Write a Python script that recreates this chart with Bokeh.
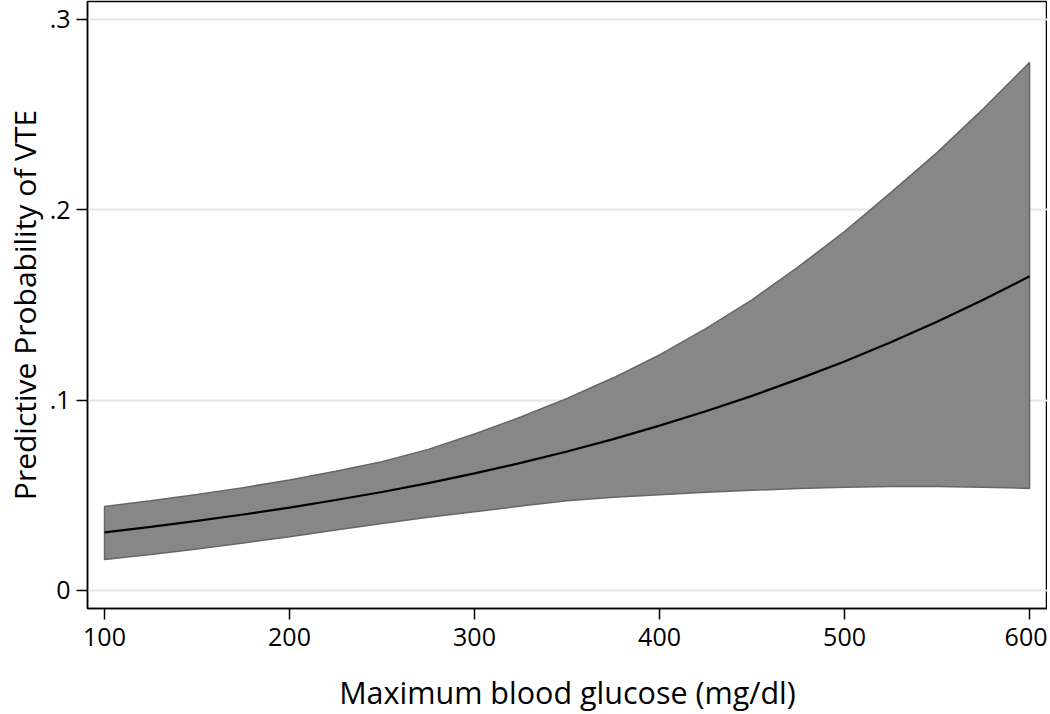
from bokeh.plotting import figure
from bokeh.models import Range1d, FixedTicker, Title
from bokeh.embed import file_html
from bokeh.resources import INLINE

# Data
glucose = [100, 125, 150, 175, 200, 225, 250, 275, 300, 325, 350,
           375, 400, 425, 450, 475, 500, 525, 550, 575, 600]
prob = [0.0305, 0.0334, 0.0365, 0.0399, 0.0435, 0.0475, 0.0517, 0.0564,
        0.0615, 0.0670, 0.0730, 0.0795, 0.0866, 0.0941, 0.1022, 0.1110,
        0.1203, 0.1304, 0.1412, 0.1527, 0.1650]
upper = [0.0441, 0.0471, 0.0504, 0.0540, 0.0580, 0.0626, 0.0676, 0.0741,
         0.0822, 0.0911, 0.1008, 0.1117, 0.1237, 0.1375, 0.1527, 0.1700,
         0.1885, 0.2090, 0.2300, 0.2530, 0.2774]
lower = [0.0163, 0.0189, 0.0217, 0.0249, 0.0282, 0.0317, 0.0352, 0.0384,
         0.0413, 0.0443, 0.0471, 0.0489, 0.0503, 0.0516, 0.0526, 0.0535,
         0.0542, 0.0546, 0.0546, 0.0542, 0.0536]

x_ticks = [100, 200, 300, 400, 500, 600]
y_ticks = [0, 0.1, 0.2, 0.3]
y_tick_labels = ["0", ".1", ".2", ".3"]

x_title = "Maximum blood glucose (mg/dl)"
y_title = "Predictive Probability of VTE"

FONT = "Open Sans"

p = figure(
    frame_width=960, frame_height=607,
    min_border_left=82, min_border_right=0, min_border_top=1, min_border_bottom=104,
    x_range=Range1d(90.8, 609.7), y_range=Range1d(-0.0095, 0.3094),
    output_backend="svg", toolbar_location=None,
)

# confidence band
band_x = glucose + glucose[::-1]
band_y = upper + lower[::-1]
p.patch(band_x, band_y, fill_color="#878787", fill_alpha=1.0,
        line_color="#666666", line_width=1.5)

# predicted probability
p.line(glucose, prob, line_color="black", line_width=2.2)

# styling
p.background_fill_color = "white"
p.border_fill_color = "white"
p.outline_line_color = "black"
p.outline_line_width = 1.5
p.outline_line_alpha = 1.0

p.xgrid.grid_line_color = None
p.ygrid.grid_line_color = "#e6e6e6"
p.ygrid.grid_line_width = 2
p.ygrid.ticker = FixedTicker(ticks=y_ticks)

p.xaxis.ticker = FixedTicker(ticks=x_ticks)
p.yaxis.ticker = FixedTicker(ticks=y_ticks)
p.yaxis.major_label_overrides = {t: l for t, l in zip(y_ticks, y_tick_labels)}

for ax in (p.xaxis[0], p.yaxis[0]):
    ax.axis_line_color = "black"
    ax.axis_line_width = 1.5
    ax.major_tick_line_color = "black"
    ax.major_tick_line_width = 1.5
    ax.major_tick_out = 11
    ax.major_tick_in = 0
    ax.minor_tick_line_color = None
    ax.major_label_text_font = FONT
    ax.major_label_text_font_size = "25px"
    ax.major_label_text_color = "black"
    ax.axis_label_text_font = FONT
    ax.axis_label_text_font_style = "normal"
    ax.axis_label_text_color = "black"

p.xaxis.axis_label = x_title
p.xaxis.axis_label_text_font_size = "30.5px"
p.xaxis.major_label_standoff = 8
p.xaxis.axis_label_standoff = 22
p.yaxis.major_label_standoff = 6
p.yaxis.major_label_orientation = "horizontal"

# y-axis title as a left-side title so the frame keeps its position
p.add_layout(Title(text=y_title, align="center", text_font=FONT,
                   text_font_size="30px", text_font_style="normal",
                   text_color="black", standoff=3, offset=0), "left")

open("out.html", "w").write(file_html(p, INLINE))
